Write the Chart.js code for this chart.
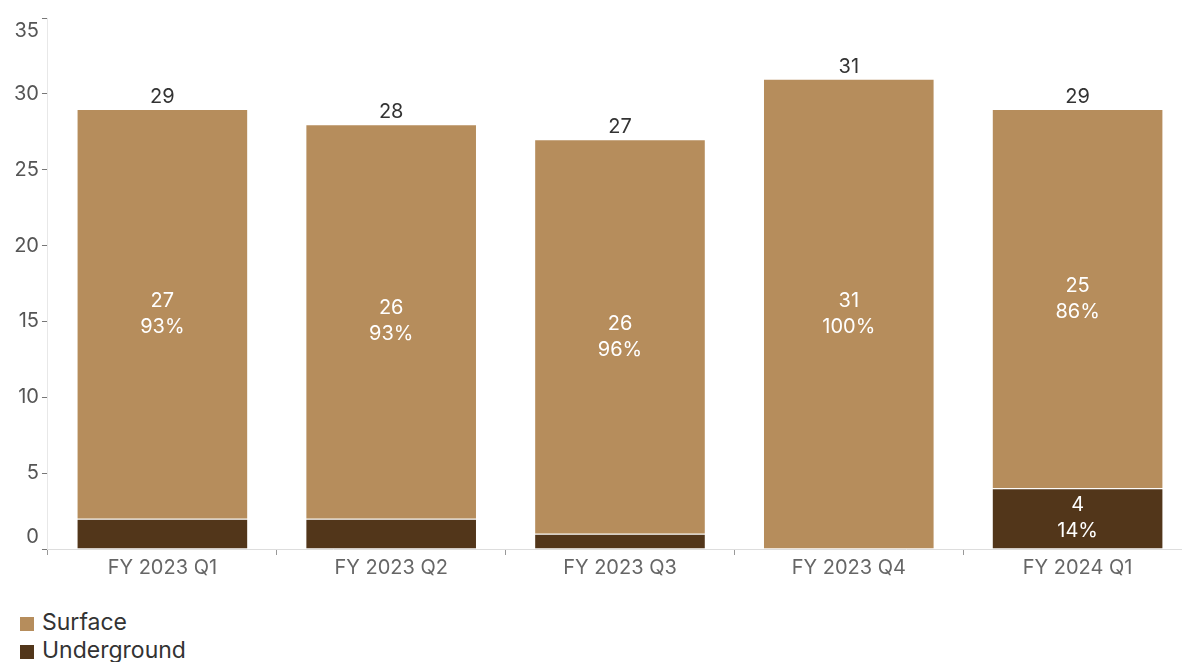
<!DOCTYPE html>
<html>
<head>
<meta charset="UTF-8">
<title>Surface vs Underground</title>
<script src="https://cdn.jsdelivr.net/npm/chart.js"></script>
<style>
  *{padding:0; margin:0;}
  body{width:1182px; height:662px; overflow:hidden; background:#fff; font-family:Inter, "Noto Sans", sans-serif;}
  #wrap{position:absolute; left:0; top:-10px; width:1192px; height:591px;}
  #legend{position:absolute; left:20px; top:608px; color:#333; font-size:23px; line-height:28px;}
  #legend span.box{display:inline-block; width:14px; height:14px; margin-right:8px; vertical-align:-1px;}
</style>
<script>
const quarters = ['FY 2023 Q1', 'FY 2023 Q2', 'FY 2023 Q3', 'FY 2023 Q4', 'FY 2024 Q1'];
const surface = [27, 26, 26, 31, 25];
const underground = [2, 2, 1, 0, 4];
const yTicks = [0, 5, 10, 15, 20, 25, 30, 35];

const surfaceColor = '#b68d5c';
const undergroundColor = '#52361a';
</script>
</head>
<body>
<div id="wrap"><canvas id="myChart"></canvas></div>
<div id="legend">
  <div><span class="box" style="background:#b68d5c"></span>Surface</div>
  <div><span class="box" style="background:#52361a"></span>Underground</div>
</div>
<script>
// value / share labels inside bars, totals on top
const barLabels = {
  id: 'barLabels',
  afterDatasetsDraw(chart) {
    const ctx = chart.ctx;
    ctx.save();
    ctx.textAlign = 'center';
    ctx.textBaseline = 'middle';
    ctx.font = '20px Inter, "Noto Sans", sans-serif';
    chart.data.datasets.forEach((ds, di) => {
      const meta = chart.getDatasetMeta(di);
      meta.data.forEach((bar, i) => {
        const v = ds.data[i];
        if (!v || v < 3) return;
        const total = surface[i] + underground[i];
        const pct = Math.round(v / total * 100) + '%';
        const cy = (bar.y + bar.base) / 2;
        ctx.fillStyle = '#fff';
        ctx.fillText(String(v), bar.x, cy - 13);
        ctx.fillText(pct, bar.x, cy + 13);
      });
    });
    const top = chart.getDatasetMeta(chart.data.datasets.length - 1);
    ctx.fillStyle = '#333';
    ctx.textBaseline = 'bottom';
    top.data.forEach((bar, i) => {
      ctx.fillText(String(surface[i] + underground[i]), bar.x, bar.y - 2);
    });
    ctx.restore();
  }
};

const ctx = document.getElementById('myChart');
new Chart(ctx, {
  type: 'bar',
  data: {
    labels: quarters,
    datasets: [{
      label: 'Underground',
      data: underground,
      backgroundColor: undergroundColor,
      borderColor: '#fff',
      borderWidth: 1
    }, {
      label: 'Surface',
      data: surface,
      backgroundColor: surfaceColor,
      borderColor: '#fff',
      borderWidth: 1
    }]
  },
  options: {
    responsive: true,
    maintainAspectRatio: false,
    animation: false,
    barPercentage: 0.75,
    categoryPercentage: 1,
    layout: { padding: { left: 11, right: 0, top: 0, bottom: 0 } },
    plugins: {
      legend: { display: false },
      tooltip: { enabled: false }
    },
    scales: {
      x: {
        stacked: true,
        grid: { display: true, offset: true, drawOnChartArea: false, tickLength: 6, tickColor: '#999' },
        border: { color: '#ddd', dash: [2, 2] },
        ticks: { color: '#666', padding: 1, font: { family: 'Inter', size: 20 } }
      },
      y: {
        stacked: true,
        min: 0,
        max: 35,
        afterBuildTicks(scale) { scale.ticks = yTicks.map(v => ({ value: v })); },
        grid: { drawOnChartArea: false, tickLength: 6, tickColor: '#777' },
        border: { color: '#e8e8e8' },
        ticks: {
          color: '#555',
          padding: 3,
          font: { family: 'Inter', size: 20, lineHeight: 1.25 },
          // pull the end labels inward
          callback(v) {
            if (v === 35) return ['', '35'];
            if (v === 0) return ['0', ''];
            return String(v);
          }
        }
      }
    }
  },
  plugins: [barLabels]
});
</script>
</body>
</html>
